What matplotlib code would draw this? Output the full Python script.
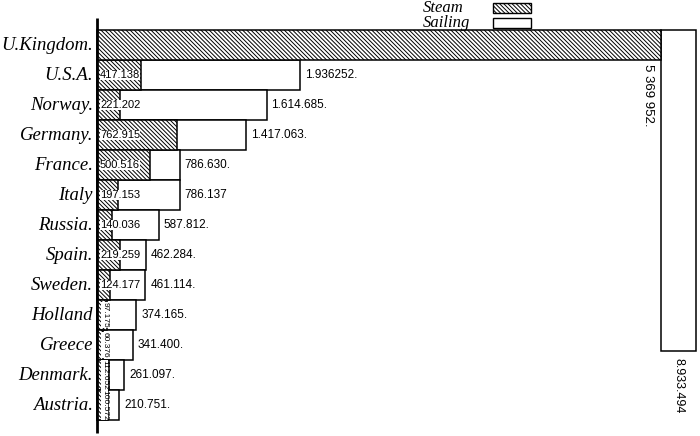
import matplotlib.pyplot as plt
from matplotlib.patches import Rectangle

# merchant tonnage: steam (hatched) and steam + sailing total (white)
countries = ["U.Kingdom.", "U.S.A.", "Norway.", "Germany.", "France.", "Italy",
             "Russia.", "Spain.", "Sweden.", "Holland", "Greece", "Denmark.", "Austria."]
steam = [5369952, 417138, 221202, 762915, 500516, 197153,
         140036, 219259, 124177, 97175, 60376, 112652, 100572]
total = [8933494, 1936252, 1614685, 1417063, 786630, 786137,
         587812, 462284, 461114, 374165, 341400, 261097, 210751]
steam_labels = ["5 369 952.", "417.138", "221.202", "762.915", "500.516", "197.153",
                "140.036", "219.259", "124.177", "97.175", "60.376", "112.652", "100.572"]
total_labels = ["8.933.494", "1.936252.", "1.614.685.", "1.417.063.", "786.630.", "786.137",
                "587.812.", "462.284.", "461.114.", "374.165.", "341.400.", "261.097.", "210.751."]
legend_labels = ["Steam", "Sailing"]

HATCH = "\\" * 8
PX = 1 / 105          # millions of tons per pixel (same scale both ways)
ROW = 30 * PX         # bar thickness
LEG_W = 35 * PX       # width of the folded UK sailing bar

plt.rcParams["hatch.linewidth"] = 0.7

fig = plt.figure(figsize=(7, 4.36), dpi=100)
ax = fig.add_axes([0, 0, 1, 1])
ax.set_xlim(-97 * PX, 603 * PX)
ax.set_ylim(436 * PX, 0)
ax.axis("off")

st = [v / 1e6 for v in steam]
tot = [v / 1e6 for v in total]
ys = [ROW * (i + 1.5) for i in range(len(countries))]

num_font = dict(family="Liberation Sans", color="black")
name_font = dict(family="Liberation Serif", style="italic", size=13.5)
white_box = dict(facecolor="white", edgecolor="none", pad=0.0)

for i, (name, y) in enumerate(zip(countries, ys)):
    ax.text(-4 * PX, y, name, ha="right", va="center", **name_font)
    if i == 0:
        continue
    ax.barh(y, tot[i], height=ROW, color="white", edgecolor="black", lw=1.1, zorder=2)
    ax.barh(y, st[i], height=ROW, color="white", edgecolor="black", lw=1.1,
            hatch=HATCH, zorder=3)
    ax.text(tot[i] + 5 * PX, y, total_labels[i], ha="left", va="center",
            size=8.5, zorder=4, **num_font)
    if i < 9:
        ax.text(3 * PX, y, steam_labels[i], ha="left", va="center",
                size=8, zorder=4, bbox=white_box, **num_font)
    else:
        ax.text(8 * PX, y, steam_labels[i], ha="center", va="center",
                rotation=270, size=6, zorder=4, bbox=white_box, **num_font)

# United Kingdom: steam bar across, sailing remainder folded downwards
# (folded leg keeps the same area as the straight bar would have)
rest = tot[0] - st[0]
leg_h = rest * ROW / LEG_W
ax.barh(ys[0], st[0], height=ROW, color="white", edgecolor="black", lw=1.1,
        hatch=HATCH, zorder=3)
ax.bar(st[0] + LEG_W / 2, leg_h, width=LEG_W, bottom=ROW, color="white",
       edgecolor="black", lw=1.1, zorder=2)
ax.text(st[0] - 13 * PX, ROW * 2 + 4 * PX, steam_labels[0], ha="center", va="top",
        rotation=270, size=9.5, **num_font)
ax.text(st[0] + LEG_W / 2, ROW + leg_h + 7 * PX, total_labels[0], ha="center",
        va="top", rotation=270, size=9, **num_font)

# vertical base line
ax.plot([0, 0], [18 * PX, 433 * PX], color="black", lw=2, zorder=5,
        solid_capstyle="butt")

# key, top right above the U.K. bar (drawn in figure pixels)
key_font = dict(family="Liberation Serif", style="italic", size=12)
for k, (lab, hatch) in enumerate(zip(legend_labels, [HATCH, None])):
    top = 3 + 15 * k
    fig.text(423 / 700, 1 - (top + 5) / 436, lab, ha="left", va="center", **key_font)
    fig.patches.append(Rectangle((493 / 700, 1 - (top + 10) / 436), 38 / 700, 10 / 436,
                                 transform=fig.transFigure, facecolor="white",
                                 edgecolor="black", lw=1, hatch=hatch))

fig.savefig("out.png", dpi=100)
